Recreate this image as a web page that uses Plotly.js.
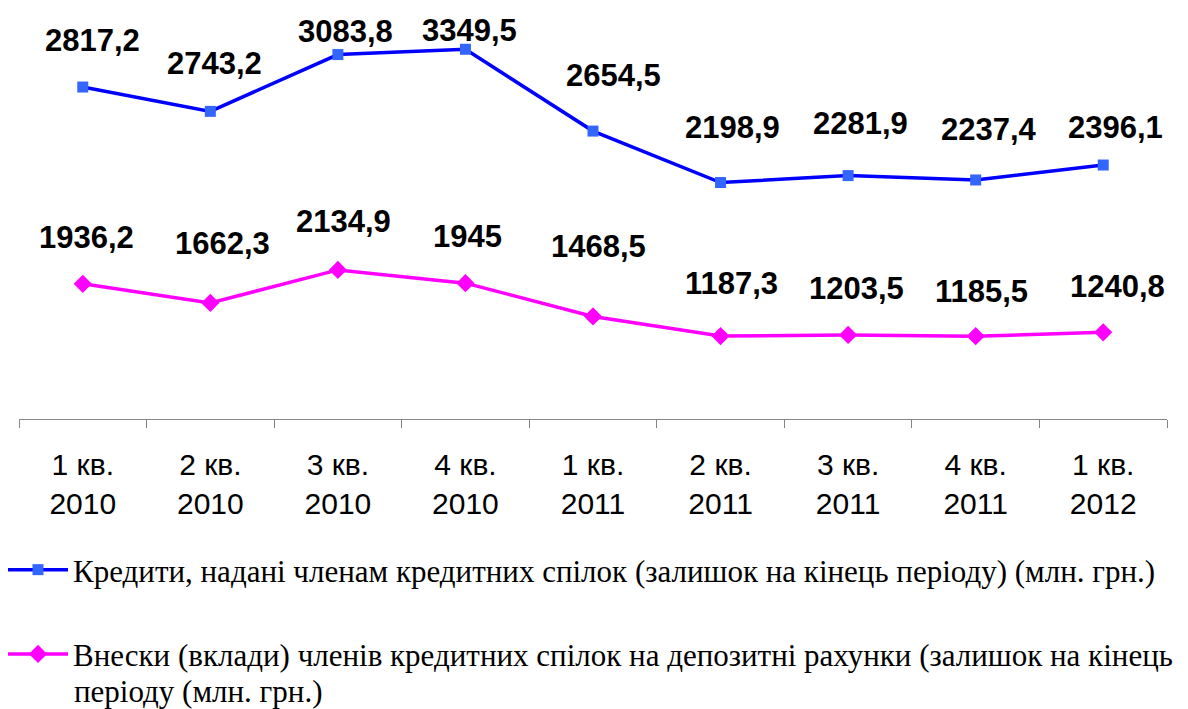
<!DOCTYPE html>
<html>
<head>
<meta charset="utf-8">
<script src="https://cdn.plot.ly/plotly-3.0.1.min.js"></script>
<style>html,body{margin:0;padding:0;background:#fff;}#chart{width:1188px;height:709px;}</style>
</head>
<body>
<div id="chart"></div>
<script>
// Categories (tick labels)
const quarters = ['1 кв.<br>2010','2 кв.<br>2010','3 кв.<br>2010','4 кв.<br>2010','1 кв.<br>2011','2 кв.<br>2011','3 кв.<br>2011','4 кв.<br>2011','1 кв.<br>2012'];
// Series values (stacked line chart: credits are stacked on top of deposits)
const credits = [2817.2, 2743.2, 3083.8, 3349.5, 2654.5, 2198.9, 2281.9, 2237.4, 2396.1];
const deposits = [1936.2, 1662.3, 2134.9, 1945, 1468.5, 1187.3, 1203.5, 1185.5, 1240.8];
// Series names (the second name wraps onto a second line in the legend)
const creditsName = 'Кредити, надані членам кредитних спілок (залишок на кінець періоду) (млн. грн.)';
const depositsNameLine1 = 'Внески (вклади) членів кредитних спілок на депозитні рахунки (залишок на кінець';
const depositsNameLine2 = 'періоду (млн. грн.)';

// label placement nudges (px)
const creditsLabelDx = [10, 4, 8, 4, 20, 12, 12, 13, 12];
const creditsLabelDy = [47, 48, 23, 19, 56, 55, 52, 50, 38];
const depositsLabelDx = [4, 12, 6, 2, 5, 11, 8, 6, 14];
const depositsLabelDy = [46, 59, 48, 47, 70, 53, 46, 45, 46];

const fmt = v => String(v).replace('.', ',');
const labelFont = {family: 'Liberation Sans', size: 31, color: '#000'};
const legendFont = {family: "'Liberation Serif', 'Times New Roman', serif", size: 31, color: '#000'};

const traces = [
  {
    x: quarters, y: deposits, name: depositsNameLine1, type: 'scatter', mode: 'lines+markers',
    stackgroup: 's', fill: 'none', legendgroup: 'b', legendrank: 2,
    line: {color: '#FF00FF', width: 3.5},
    marker: {symbol: 'diamond', size: 14, color: '#FF00FF'},
    hoverinfo: 'skip'
  },
  {
    x: quarters, y: credits, name: creditsName, type: 'scatter', mode: 'lines+markers',
    stackgroup: 's', fill: 'none', legendgroup: 'a', legendrank: 1,
    line: {color: '#0000FF', width: 3.5},
    marker: {symbol: 'square', size: 11, color: '#3366FF'},
    hoverinfo: 'skip'
  }
];

const annotations = [];
quarters.forEach((q, i) => {
  annotations.push({
    x: i, y: deposits[i], xref: 'x', yref: 'y', text: '<b>' + fmt(deposits[i]) + '</b>',
    showarrow: false, xanchor: 'center', yanchor: 'middle',
    xshift: depositsLabelDx[i], yshift: depositsLabelDy[i], font: labelFont
  });
  annotations.push({
    x: i, y: deposits[i] + credits[i], xref: 'x', yref: 'y', text: '<b>' + fmt(credits[i]) + '</b>',
    showarrow: false, xanchor: 'center', yanchor: 'middle',
    xshift: creditsLabelDx[i], yshift: creditsLabelDy[i], font: labelFont
  });
});
// continuation line of the wrapped legend entry
annotations.push({
  xref: 'paper', yref: 'paper', x: (72 - 19) / 1148, y: (419 - 691) / 419,
  xanchor: 'left', yanchor: 'middle', showarrow: false,
  text: depositsNameLine2, font: legendFont
});

const layout = {
  width: 1188, height: 709,
  margin: {l: 19, r: 21, t: 0, b: 290, autoexpand: false},
  paper_bgcolor: '#fff', plot_bgcolor: '#fff',
  showlegend: true,
  xaxis: {
    type: 'category', range: [-0.5, 8.5], fixedrange: true,
    showline: true, linecolor: '#868686', linewidth: 1,
    ticks: 'outside', ticklen: 8, tickcolor: '#868686', tickwidth: 1,
    tickson: 'boundaries', showgrid: false, zeroline: false,
    ticklabelstandoff: 19,
    tickfont: {family: 'Liberation Sans', size: 30, color: '#000'}
  },
  yaxis: {
    range: [0, 6000], showticklabels: false, showgrid: false, zeroline: false,
    showline: false, ticks: '', fixedrange: true
  },
  legend: {
    xref: 'container', yref: 'container', x: 3 / 1188, y: 1 - 543 / 709,
    xanchor: 'left', yanchor: 'top',
    orientation: 'v', traceorder: 'grouped', tracegroupgap: 41,
    valign: 'middle', itemwidth: 60,
    font: legendFont,
    bgcolor: 'rgba(0,0,0,0)'
  },
  annotations: annotations
};

Plotly.newPlot('chart', traces, layout, {staticPlot: true, displayModeBar: false});
</script>
</body>
</html>
